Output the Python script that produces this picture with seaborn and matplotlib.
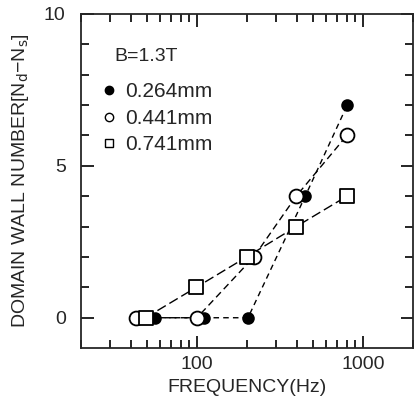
import matplotlib
matplotlib.use("Agg")
import matplotlib.pyplot as plt
from matplotlib.lines import Line2D
from matplotlib.ticker import FixedLocator, NullFormatter
import seaborn as sns
import pandas as pd

# frequency (Hz) and domain wall number per thickness
freq_264 = [56, 110, 203, 449, 804]
walls_264 = [0, 0, 0, 4, 7]
freq_441 = [43, 100, 220, 396, 800]
walls_441 = [0, 0, 2, 4, 6]
freq_741 = [49, 99, 199, 396, 800]
walls_741 = [0, 1, 2, 3, 4]

labels = ["0.264mm", "0.441mm", "0.741mm"]

sns.set_style("ticks")
plt.rcParams["font.family"] = ["Liberation Sans", "DejaVu Sans"]

fig = plt.figure(figsize=(4.15, 4.11), dpi=100)
ax = fig.add_axes([0.195, 0.153, 0.80, 0.813])

series = [
    (freq_264, walls_264, "o", "black", 60, (4, 3)),
    (freq_441, walls_441, "o", "white", 100, (5, 3)),
    (freq_741, walls_741, "s", "white", 95, (7, 3)),
]
handles = []
for (fx, wy, mk, fc, sz, dash), lab in zip(series, labels):
    df = pd.DataFrame({"freq": fx, "walls": wy})
    sns.lineplot(data=df, x="freq", y="walls", ax=ax, color="black",
                 linewidth=1.0, dashes=False, zorder=1)
    ax.lines[-1].set_dashes(dash)
    sns.scatterplot(data=df, x="freq", y="walls", ax=ax, marker=mk,
                    s=sz, facecolor=fc, edgecolor="black", linewidth=1.3,
                    zorder=3)
    handles.append(Line2D([], [], marker=mk, linestyle="none", markersize=6,
                          markerfacecolor=fc, markeredgecolor="black",
                          markeredgewidth=1.0, label=lab))

ax.set_xscale("log")
ax.set_xlim(20, 2000)
ax.set_ylim(-1, 10)
ax.set_xticks([100, 1000])
ax.set_xticklabels(["100", "1000"])
ax.xaxis.set_minor_locator(FixedLocator([k * 10 ** e for e in (1, 2, 3) for k in range(2, 10)]))
ax.xaxis.set_minor_formatter(NullFormatter())
ax.set_yticks([0, 5, 10])
ax.yaxis.set_minor_locator(FixedLocator(range(0, 11)))

ax.tick_params(which="both", direction="in", top=True, right=True,
               labelsize=14, width=1.2, color="black")
ax.tick_params(which="major", length=9, pad=6)
ax.tick_params(axis="y", which="major", pad=11)
ax.tick_params(which="minor", length=6)
for sp in ax.spines.values():
    sp.set_linewidth(1.3)

ax.set_xlabel("FREQUENCY(Hz)", fontsize=14, labelpad=4)
ax.set_ylabel("DOMAIN WALL NUMBER[N$_\\mathrm{d}$\u2212N$_\\mathrm{s}$]",
              fontsize=14, labelpad=9)

ax.text(0.10, 0.86, "B=1.3T", transform=ax.transAxes, fontsize=14)
ax.legend(handles=handles, loc="upper left", bbox_to_anchor=(0.04, 0.82),
          frameon=False, fontsize=15, handlelength=0.6, handletextpad=0.5,
          labelspacing=0.36, borderaxespad=0)

fig.savefig("out.png", dpi=100)
